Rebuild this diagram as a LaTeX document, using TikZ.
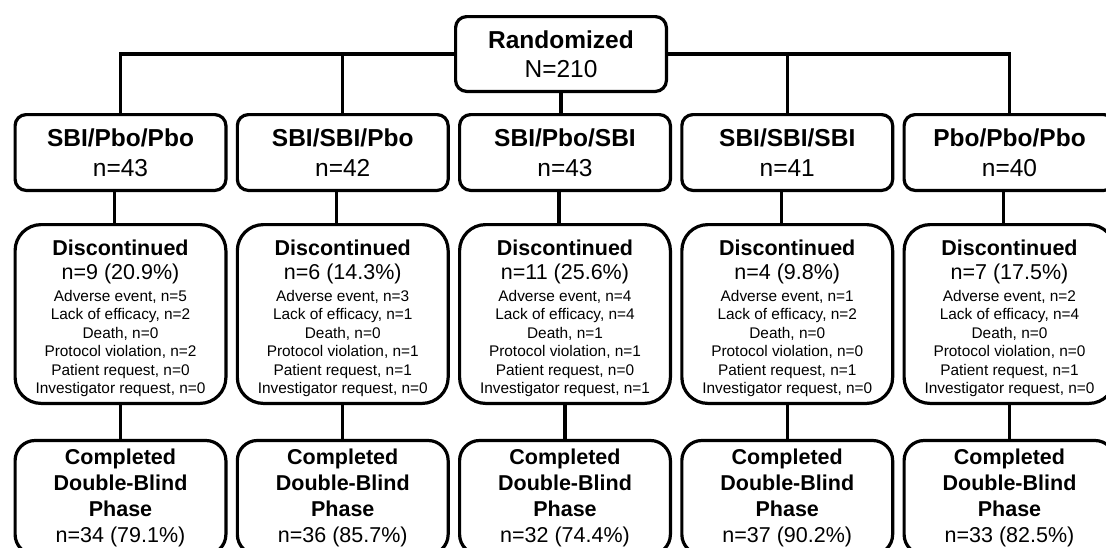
\documentclass[tikz,border=0pt]{standalone}
\usepackage{fontspec}
\setmainfont{Liberation Sans}
\tikzset{
  box/.style={draw=black, line width=3.2pt, fill=white, inner sep=0pt, align=center, minimum width=210.8pt},
  topbox/.style={box, rounded corners=11pt, minimum height=74.8pt, font=\fontsize{24.5}{29}\selectfont},
  armbox/.style={box, rounded corners=11pt, minimum height=75.8pt, font=\fontsize{24.5}{30}\selectfont},
  discbox/.style={box, rounded corners=26pt, minimum height=178.8pt, font=\fontsize{15.4}{18.4}\selectfont},
  compbox/.style={box, rounded corners=20pt, minimum height=114pt, font=\fontsize{21.5}{26}\selectfont},
  link/.style={draw=black, line width=3.2pt},
}
\newcommand{\disctext}[8]{{\fontsize{21.5}{24}\selectfont\bfseries\rule{0pt}{24pt}Discontinued}\\[5.7pt]{\fontsize{21.5}{24}\selectfont n=#1 (#2\%)}\\[3.7pt]Adverse event, n=#3\\Lack of efficacy, n=#4\\Death, n=#5\\Protocol violation, n=#6\\Patient request, n=#7\\Investigator request, n=#8}
\newcommand{\comptext}[2]{\textbf{Completed}\\\textbf{Double-Blind}\\\textbf{Phase}\\n=#1 (#2\%)}
\begin{document}
\begin{tikzpicture}[x=1pt,y=-1pt]
\useasboundingbox (0,0) rectangle (1106,547);
\clip (0,0) rectangle (1106,547);

\node[topbox] (rand) at (561,54) {\textbf{Randomized}\\N=210};

\node[armbox] (r1) at (120.5,152.5) {\textbf{SBI/Pbo/Pbo}\\n=43};
\node[armbox] (r2) at (342.75,152.5) {\textbf{SBI/SBI/Pbo}\\n=42};
\node[armbox] (r3) at (565,152.5) {\textbf{SBI/Pbo/SBI}\\n=43};
\node[armbox] (r4) at (787.25,152.5) {\textbf{SBI/SBI/SBI}\\n=41};
\node[armbox] (r5) at (1009.5,152.5) {\textbf{Pbo/Pbo/Pbo}\\n=40};

\node[discbox] (d1) at (120.5,314) {\disctext{9}{20.9}{5}{2}{0}{2}{0}{0}};
\node[discbox] (d2) at (342.75,314) {\disctext{6}{14.3}{3}{1}{0}{1}{1}{0}};
\node[discbox] (d3) at (565,314) {\disctext{11}{25.6}{4}{4}{1}{1}{0}{1}};
\node[discbox] (d4) at (787.25,314) {\disctext{4}{9.8}{1}{2}{0}{0}{1}{0}};
\node[discbox] (d5) at (1009.5,314) {\disctext{7}{17.5}{2}{4}{0}{0}{1}{0}};

\node[compbox] (c1) at (120.5,497.5) {\comptext{34}{79.1}};
\node[compbox] (c2) at (342.75,497.5) {\comptext{36}{85.7}};
\node[compbox] (c3) at (565,497.5) {\comptext{32}{74.4}};
\node[compbox] (c4) at (787.25,497.5) {\comptext{37}{90.2}};
\node[compbox] (c5) at (1009.5,497.5) {\comptext{33}{82.5}};

% randomization tree
\path[link] (r1.north) |- (rand.west);
\path[link] (r2.north) -- (r2.north |- rand.west);
\path[link] (r4.north) -- (r4.north |- rand.west);
\path[link] (r5.north) |- (rand.east);
\path[link] (rand.south) -- (rand.south |- r3.north);

% arms to discontinued, discontinued to completed
\foreach \i in {1,...,5}{
  \path[link] ([xshift=-6pt]r\i.south) -- ([xshift=-6pt]r\i.south |- d\i.north);
  \path[link] (d\i.south) -- (c\i.north);
}
\end{tikzpicture}
\end{document}
